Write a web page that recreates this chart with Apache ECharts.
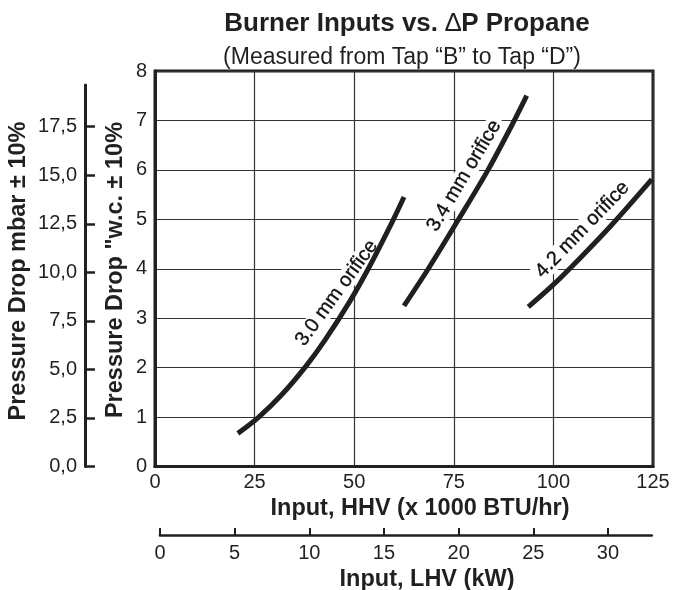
<!DOCTYPE html>
<html><head><meta charset="utf-8">
<script src="https://cdn.jsdelivr.net/npm/echarts@6/dist/echarts.min.js"></script>
<style>html,body{margin:0;padding:0;background:#fff}#c{width:675px;height:590px}</style>
</head><body><div id="c"></div>
<script>
// ---- data ----
const hhvRange = [0, 125];
const inchRange = [0, 8];
const mbarTicks = [0, 2.5, 5, 7.5, 10, 12.5, 15, 17.5];
const lhvTicks = [0, 5, 10, 15, 20, 25, 30];
const curveNames = ['3.0 mm orifice', '3.4 mm orifice', '4.2 mm orifice'];
const orifice30 = [[20.8,0.67],[25.9,0.99],[31.8,1.45],[37.9,2.03],[42.7,2.56],[48.9,3.34],[53.8,4.04],[59.8,4.99],[62.5,5.45]];
const orifice34 = [[62.5,3.25],[68.6,4.0],[76.2,5.0],[83.6,6.0],[90.2,7.0],[93.3,7.5]];
const orifice42 = [[93.7,3.23],[100.4,3.71],[107.1,4.25],[114.2,4.85],[124.7,5.81]];
const labelAnchors = [[45.6,3.51],[77.6,5.88],[107.3,4.79]];
const labelAngles = [54, 59, 46];
const subtitleText = '(Measured from Tap “B” to Tap “D”)';
const xName = 'Input, HHV (x 1000 BTU/hr)';
const x2Name = 'Input, LHV (kW)';
const yName = 'Pressure Drop "w.c. ± 10%';
const y2Name = 'Pressure Drop mbar ± 10%';

// ---- styles ----
const ink = '#231f20';
const FF = '"Liberation Sans", Arial, Helvetica, sans-serif';
const chart = echarts.init(document.getElementById('c'), null, {renderer: 'canvas'});
const curves = [orifice30, orifice34, orifice42];

const staticGraphics = [
  {type: 'text', id: 't1', x: 407, y: 24, z: 10, style: {
    text: '{a|Burner Inputs vs. }{d|∆}{a|P Propane}',
    align: 'center', verticalAlign: 'middle',
    rich: {a: {fontFamily: FF, fontWeight: 'bold', fontSize: 26, fill: ink, color: ink},
           d: {fontFamily: FF, fontWeight: 'normal', fontSize: 26, fill: ink, color: ink}}}},
  {type: 'text', id: 't2', x: 402, y: 58, z: 10, style: {text: subtitleText, align: 'center', verticalAlign: 'middle',
    font: '23px ' + FF, fill: ink}},
  {type: 'text', id: 't3', x: 420, y: 509, z: 10, style: {text: xName, align: 'center', verticalAlign: 'middle',
    font: 'bold 23.5px ' + FF, fill: ink}},
  {type: 'text', id: 't4', x: 427, y: 580, z: 10, style: {text: x2Name, align: 'center', verticalAlign: 'middle',
    font: 'bold 23.5px ' + FF, fill: ink}},
  {type: 'text', id: 't5', x: 116, y: 270, rotation: Math.PI / 2, z: 10, style: {text: yName, align: 'center', verticalAlign: 'middle',
    font: 'bold 23.5px ' + FF, fill: ink}},
  {type: 'text', id: 't6', x: 19, y: 271, rotation: Math.PI / 2, z: 10, style: {text: y2Name, align: 'center', verticalAlign: 'middle',
    font: 'bold 23.5px ' + FF, fill: ink}}
];

const option = {
  backgroundColor: '#fff',
  animation: false,
  textStyle: {fontFamily: FF, color: ink},
  grid: [
    {left: 155, right: 22, top: 71, bottom: 123.5, show: true, borderColor: ink, borderWidth: 3, backgroundColor: 'transparent', z: 0},
    {left: 85, width: 20, top: 85, bottom: 123.5, show: false},
    {left: 160, right: 23.3, top: 520, bottom: 55, show: false}
  ],
  xAxis: [
    {gridIndex: 0, type: 'value', min: hhvRange[0], max: hhvRange[1], interval: 25,
     axisLine: {show: true, lineStyle: {color: ink, width: 3}},
     axisTick: {show: false},
     splitLine: {show: true, lineStyle: {color: '#333', width: 1.2}},
     axisLabel: {fontSize: 20, color: ink, margin: 6, fontFamily: FF}},
    {gridIndex: 1, type: 'value', min: 0, max: 1, show: false},
    {gridIndex: 2, type: 'value', min: 0, max: 32.93, position: 'bottom',
     axisLine: {show: true, lineStyle: {color: ink, width: 2.7}},
     axisTick: {show: true, inside: true, length: 7, lineStyle: {color: ink, width: 2}, customValues: lhvTicks},
     splitLine: {show: false},
     axisLabel: {fontSize: 20, color: ink, margin: 8, fontFamily: FF, customValues: lhvTicks}}
  ],
  yAxis: [
    {gridIndex: 0, type: 'value', min: inchRange[0], max: inchRange[1], interval: 1,
     axisLine: {show: true, lineStyle: {color: ink, width: 3}},
     axisTick: {show: false},
     splitLine: {show: true, lineStyle: {color: '#333', width: 1.2}},
     axisLabel: {fontSize: 20, color: ink, margin: 8, fontFamily: FF}},
    {gridIndex: 1, type: 'value', min: 0, max: 19.65, position: 'left',
     axisLine: {show: true, lineStyle: {color: ink, width: 3}},
     axisTick: {show: true, inside: true, length: 10, lineStyle: {color: ink, width: 2.5}, customValues: mbarTicks},
     splitLine: {show: false},
     axisLabel: {fontSize: 20, color: ink, margin: 8, fontFamily: FF, customValues: mbarTicks,
       formatter: v => v.toFixed(1).replace('.', ',')}},
    {gridIndex: 2, type: 'value', min: 0, max: 1, show: false}
  ],
  series: curves.map((d, i) => ({
    type: 'line', name: curveNames[i], xAxisIndex: 0, yAxisIndex: 0, data: d,
    smooth: 0.3, showSymbol: false, symbol: 'none', silent: true, z: 5,
    lineStyle: {color: ink, width: 5, cap: 'butt', join: 'round'}
  })),
  graphic: staticGraphics
};
chart.setOption(option);

// curve labels placed through the chart's own coordinate system
const labelGraphics = labelAnchors.map((p, i) => {
  const px = chart.convertToPixel({gridIndex: 0}, p);
  return {type: 'text', id: 'lab' + i, x: px[0], y: px[1], rotation: labelAngles[i] * Math.PI / 180, z: 1,
    style: {text: curveNames[i], align: 'center', verticalAlign: 'middle', font: '20px ' + FF, fill: '#111',
      stroke: '#111', lineWidth: 0.35, backgroundColor: '#fff', padding: [0, 4]}};
});
chart.setOption({graphic: staticGraphics.concat(labelGraphics)});
</script>
</body></html>
